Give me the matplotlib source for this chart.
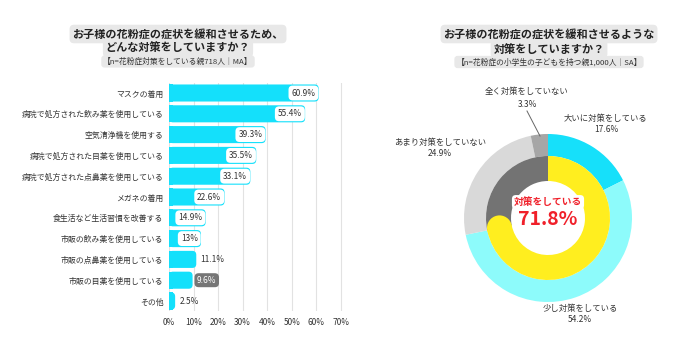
import matplotlib.pyplot as plt
from matplotlib.patches import FancyBboxPatch, Rectangle, Circle
import numpy as np

plt.rcParams['font.family'] = ['Noto Sans CJK JP', 'DejaVu Sans']

# left chart data
measures = ['マスクの着用', '病院で処方された飲み薬を使用している', '空気清浄機を使用する',
            '病院で処方された目薬を使用している', '病院で処方された点鼻薬を使用している',
            'メガネの着用', '食生活など生活習慣を改善する', '市販の飲み薬を使用している',
            '市販の点鼻薬を使用している', '市販の目薬を使用している', 'その他']
measure_pct = [60.9, 55.4, 39.3, 35.5, 33.1, 22.6, 14.9, 13.0, 11.1, 9.6, 2.5]
measure_lbl = ['60.9%', '55.4%', '39.3%', '35.5%', '33.1%', '22.6%', '14.9%', '13%', '11.1%', '9.6%', '2.5%']
xticks = [0, 10, 20, 30, 40, 50, 60, 70]

# right chart data
levels = ['大いに対策をしている', '少し対策をしている', 'あまり対策をしていない', '全く対策をしていない']
level_pct = [17.6, 54.2, 24.9, 3.3]
doing_pct = 71.8

CYAN = '#14E0FB'
TXT = '#333333'
W, H = 700, 349

fig = plt.figure(figsize=(7, 3.49), dpi=100)


def fx(px):
    return px / W


def fy(py):
    return 1 - py / H


# ---- left bar chart ----
ax = fig.add_axes([fx(169), fy(311.4), 72 * 2.457 / W, (311.4 - 82.6) / H])
ypos = np.arange(len(measures))
bars = ax.barh(ypos, measure_pct, height=0.82, color=CYAN, zorder=2)
ax.set_xlim(0, 72)
ax.set_ylim(len(measures) - 0.5, -0.5)
ax.set_xticks(xticks)
ax.set_xticklabels([f'{t}%' for t in xticks], fontsize=6, color=TXT)
ax.set_yticks(ypos)
ax.set_yticklabels(measures, fontsize=5.7, color=TXT)
ax.tick_params(length=0, pad=5)
ax.tick_params(axis='y', pad=4)
for s in ax.spines.values():
    s.set_visible(False)
ax.grid(axis='x', color='#E2E2E2', lw=0.8, zorder=0)

# rounded right ends
for b in bars:
    x0, y0, w, h = b.get_x(), b.get_y(), b.get_width(), b.get_height()
    b.set_visible(False)
    r = 1.6
    ax.add_patch(FancyBboxPatch((x0, y0), w, h,
                                boxstyle=f'round,pad=0,rounding_size={r}',
                                mutation_aspect=0.12, fc=CYAN, ec='none', zorder=2))
    ax.add_patch(Rectangle((x0, y0), min(w, r), h, fc=CYAN, ec='none', zorder=2))

for i, (v, lbl) in enumerate(zip(measure_pct, measure_lbl)):
    if i < 8:
        ax.text(v - 1.3, i, lbl, ha='right', va='center', fontsize=6, color=TXT, zorder=4,
                bbox=dict(boxstyle='round,pad=0.35,rounding_size=0.5', fc='white', ec='none'))
    elif lbl == '9.6%':
        ax.text(v + 1.8, i, lbl, ha='left', va='center', fontsize=6, color='white', zorder=4,
                bbox=dict(boxstyle='round,pad=0.3,rounding_size=0.5', fc='#767676', ec='none'))
    else:
        ax.text(v + 1.8, i, lbl, ha='left', va='center', fontsize=6, color=TXT, zorder=4)

title_box = dict(boxstyle='round,pad=0.25,rounding_size=0.4', fc='#E8E8E8', ec='none')
fig.text(fx(178), fy(34), 'お子様の花粉症の症状を緩和させるため、', ha='center', va='center',
         fontsize=8, fontweight='bold', color='#222222', bbox=title_box)
fig.text(fx(178), fy(48), 'どんな対策をしていますか？', ha='center', va='center',
         fontsize=8, fontweight='bold', color='#222222', bbox=title_box)
fig.text(fx(178), fy(61.5), '【n=花粉症対策をしている親718人｜MA】', ha='center', va='center',
         fontsize=5.6, color=TXT, bbox=title_box)

# ---- right donut ----
ax2 = fig.add_axes([fx(548 - 90), fy(218 + 90), 180 / W, 180 / H])
ax2.pie(level_pct, radius=84, startangle=90, counterclock=False,
        colors=['#16E0FA', '#8DFBFB', '#D9D9D9', '#A6A6A6'],
        wedgeprops=dict(width=22, edgecolor='none'))
ax2.pie([doing_pct, 100 - doing_pct], radius=62, startangle=90, counterclock=False,
        colors=['#FFEE1F', '#737373'], wedgeprops=dict(width=25, edgecolor='none'))
# rounded end of the yellow arc
ang = np.deg2rad(90 - doing_pct / 100 * 360)
rm = (62 + 37) / 2
ax2.add_patch(Circle((rm * np.cos(ang), rm * np.sin(ang)), 12.5, fc='#FFEE1F', ec='none', zorder=3))
ax2.set_xlim(-90, 90)
ax2.set_ylim(-90, 90)
ax2.set_aspect('equal')
ax2.axis('off')

ax2.text(0, 16, '対策をしている', ha='center', va='center', fontsize=7, fontweight='bold',
         color='#F0202A', zorder=5,
         bbox=dict(boxstyle='round,pad=0.2,rounding_size=0.4', fc='white', ec='none'))
ax2.text(0, -1, f'{doing_pct}%', ha='center', va='center', fontsize=14, fontweight='bold',
         color='#F0202A', zorder=5)

fig.text(fx(549), fy(34), 'お子様の花粉症の症状を緩和させるような', ha='center', va='center',
         fontsize=8, fontweight='bold', color='#222222', bbox=title_box)
fig.text(fx(549), fy(49), '対策をしていますか？', ha='center', va='center',
         fontsize=8, fontweight='bold', color='#222222', bbox=title_box)
fig.text(fx(549), fy(62), '【n=花粉症の小学生の子どもを持つ親1,000人｜SA】', ha='center', va='center',
         fontsize=5.6, color=TXT, bbox=title_box)

label_pos = {'大いに対策をしている': (606, 118), '少し対策をしている': (580, 308),
             'あまり対策をしていない': (440, 142), '全く対策をしていない': (527, 92)}
for name, v in zip(levels, level_pct):
    px, py = label_pos[name]
    fig.text(fx(px), fy(py), name, ha='center', va='center', fontsize=6, color=TXT)
    fig.text(fx(px), fy(py + 12), f'{v}%', ha='center', va='center', fontsize=6, color=TXT)

fig.add_artist(plt.Line2D([fx(527), fx(540)], [fy(111), fy(136)], color='#666666', lw=0.7))

fig.savefig('out.png', dpi=100)
